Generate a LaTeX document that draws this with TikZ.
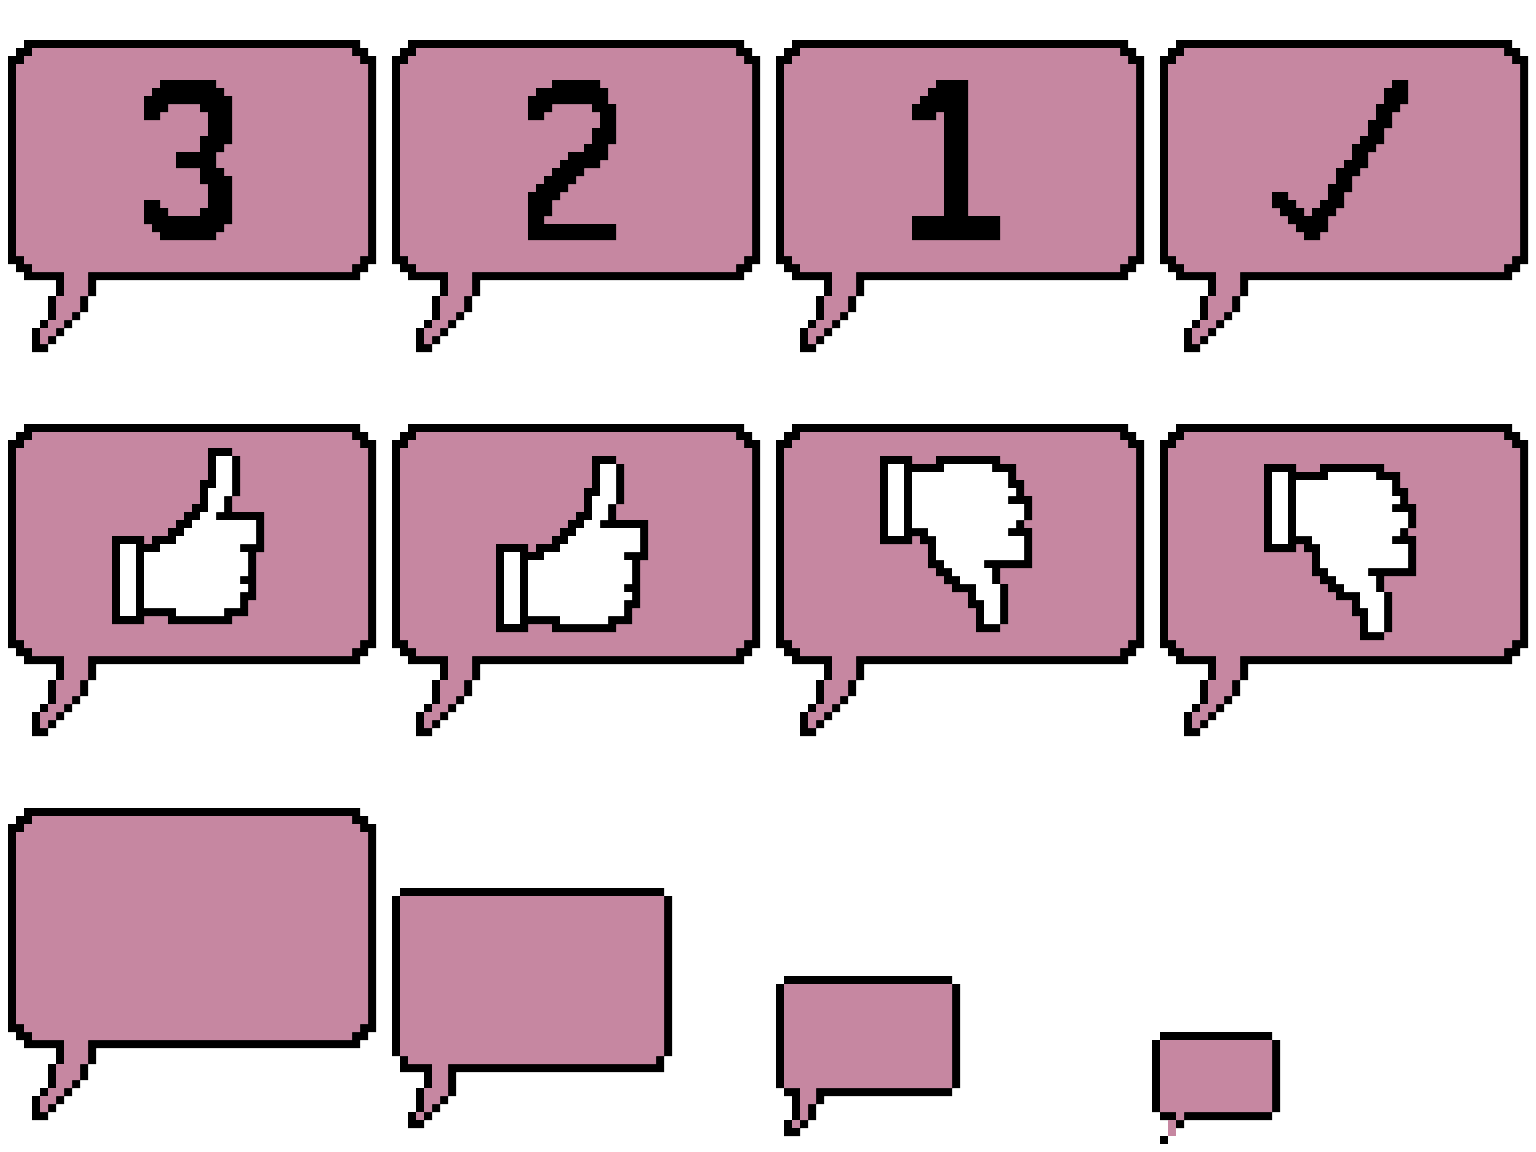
\documentclass[tikz,border=0pt]{standalone}
\definecolor{bubblepink}{HTML}{C687A1}
\tikzset{
  inkpx/.style={fill=black},
  bodypx/.style={fill=bubblepink},
  handpx/.style={fill=white}
}
% large speech bubble, in cells of the pixel grid
\newcommand{\BigBubble}{%
  \fill[inkpx] (3,5)--(45,5)--(45,6)--(46,6)--(46,7)--(47,7)--(47,33)--(46,33)--(46,34)--(45,34)--(45,35)--(12,35)--(12,37)--(11,37)--(11,39)--(10,39)--(10,40)--(9,40)--(9,41)--(8,41)--(8,42)--(7,42)--(7,43)--(6,43)--(6,44)--(4,44)--(4,41)--(5,41)--(5,40)--(6,40)--(6,37)--(7,37)--(7,35)--(3,35)--(3,34)--(2,34)--(2,33)--(1,33)--(1,7)--(2,7)--(2,6)--(3,6)--cycle;
  \fill[bodypx] (4,6)--(44,6)--(44,7)--(45,7)--(45,8)--(46,8)--(46,32)--(45,32)--(45,33)--(44,33)--(44,34)--(11,34)--(11,37)--(10,37)--(10,39)--(9,39)--(9,40)--(8,40)--(8,41)--(7,41)--(7,42)--(6,42)--(6,43)--(5,43)--(5,41)--(6,41)--(6,40)--(7,40)--(7,37)--(8,37)--(8,34)--(4,34)--(4,33)--(3,33)--(3,32)--(2,32)--(2,8)--(3,8)--(3,7)--(4,7)--cycle;
}
\newcommand{\ThumbUp}{%
  \fill[inkpx] (26,8)--(29,8)--(29,9)--(30,9)--(30,14)--(29,14)--(29,16)--(33,16)--(33,21)--(32,21)--(32,27)--(31,27)--(31,29)--(29,29)--(29,30)--(21,30)--(21,29)--(18,29)--(18,30)--(14,30)--(14,19)--(18,19)--(18,20)--(19,20)--(19,19)--(21,19)--(21,18)--(22,18)--(22,17)--(23,17)--(23,16)--(24,16)--(24,15)--(25,15)--(25,12)--(26,12)--cycle;
  \fill[handpx] (27,9)--(29,9)--(29,14)--(28,14)--(28,16)--(27,16)--(27,17)--(32,17)--(32,20)--(30,20)--(30,21)--(31,21)--(31,24)--(30,24)--(30,25)--(31,25)--(31,26)--(30,26)--(30,28)--(28,28)--(28,29)--(22,29)--(22,28)--(18,28)--(18,21)--(20,21)--(20,20)--(22,20)--(22,19)--(23,19)--(23,18)--(24,18)--(24,17)--(25,17)--(25,16)--(26,16)--(26,13)--(27,13)--cycle;
  \fill[handpx] (15,20) rectangle (17,29);
}
\newcommand{\ThumbDown}{%
  \fill[inkpx] (14,9)--(18,9)--(18,10)--(21,10)--(21,9)--(29,9)--(29,10)--(31,10)--(31,12)--(32,12)--(32,14)--(33,14)--(33,17)--(32,17)--(32,18)--(33,18)--(33,23)--(29,23)--(29,25)--(30,25)--(30,30)--(29,30)--(29,31)--(26,31)--(26,28)--(25,28)--(25,26)--(23,26)--(23,25)--(22,25)--(22,24)--(21,24)--(21,23)--(20,23)--(20,20)--(19,20)--(19,19)--(18,19)--(18,20)--(14,20)--cycle;
  \fill[handpx] (22,10)--(28,10)--(28,11)--(30,11)--(30,13)--(31,13)--(31,14)--(30,14)--(30,15)--(32,15)--(32,17)--(31,17)--(31,18)--(30,18)--(30,19)--(32,19)--(32,22)--(27,22)--(27,23)--(28,23)--(28,25)--(29,25)--(29,30)--(27,30)--(27,27)--(26,27)--(26,25)--(24,25)--(24,24)--(23,24)--(23,23)--(22,23)--(22,22)--(21,22)--(21,19)--(20,19)--(20,18)--(18,18)--(18,11)--(22,11)--cycle;
  \fill[handpx] (15,10) rectangle (17,19);
}
\begin{document}
\begin{tikzpicture}[x=4bp,y=-4bp]
\useasboundingbox (0,0) rectangle (192,144);
\fill[white] (0,0) rectangle (192,144);

% row 1: countdown
\begin{scope}
  \BigBubble
  \fill[inkpx] (20,10)--(27,10)--(27,11)--(28,11)--(28,12)--(29,12)--(29,18)--(28,18)--(28,19)--(27,19)--(27,21)--(28,21)--(28,22)--(29,22)--(29,28)--(28,28)--(28,29)--(27,29)--(27,30)--(20,30)--(20,29)--(19,29)--(19,28)--(18,28)--(18,25)--(20,25)--(20,26)--(21,26)--(21,27)--(25,27)--(25,26)--(26,26)--(26,23)--(25,23)--(25,21)--(22,21)--(22,19)--(25,19)--(25,17)--(26,17)--(26,14)--(25,14)--(25,13)--(21,13)--(21,14)--(20,14)--(20,15)--(18,15)--(18,12)--(19,12)--(19,11)--(20,11)--cycle;
\end{scope}
\begin{scope}[shift={(48,0)}]
  \BigBubble
  \fill[inkpx] (21,10)--(27,10)--(27,11)--(28,11)--(28,13)--(29,13)--(29,18)--(28,18)--(28,20)--(27,20)--(27,21)--(25,21)--(25,22)--(24,22)--(24,23)--(23,23)--(23,24)--(22,24)--(22,25)--(21,25)--(21,27)--(20,27)--(20,28)--(29,28)--(29,30)--(18,30)--(18,24)--(19,24)--(19,23)--(20,23)--(20,22)--(21,22)--(21,21)--(22,21)--(22,20)--(23,20)--(23,19)--(25,19)--(25,18)--(26,18)--(26,16)--(27,16)--(27,14)--(26,14)--(26,13)--(21,13)--(21,14)--(20,14)--(20,15)--(18,15)--(18,12)--(19,12)--(19,11)--(21,11)--cycle;
\end{scope}
\begin{scope}[shift={(96,0)}]
  \BigBubble
  \fill[inkpx] (21,10)--(25,10)--(25,27)--(29,27)--(29,30)--(18,30)--(18,27)--(22,27)--(22,14)--(21,14)--(21,15)--(18,15)--(18,13)--(19,13)--(19,12)--(20,12)--(20,11)--(21,11)--cycle;
\end{scope}
\begin{scope}[shift={(144,0)}]
  \BigBubble
  \fill[inkpx] (30,10)--(32,10)--(32,13)--(31,13)--(31,14)--(30,14)--(30,16)--(29,16)--(29,18)--(28,18)--(28,19)--(27,19)--(27,21)--(26,21)--(26,22)--(25,22)--(25,24)--(24,24)--(24,26)--(23,26)--(23,27)--(22,27)--(22,29)--(21,29)--(21,30)--(19,30)--(19,29)--(18,29)--(18,28)--(17,28)--(17,27)--(16,27)--(16,26)--(15,26)--(15,24)--(17,24)--(17,25)--(18,25)--(18,26)--(19,26)--(19,27)--(20,27)--(20,26)--(21,26)--(21,25)--(22,25)--(22,23)--(23,23)--(23,21)--(24,21)--(24,20)--(25,20)--(25,18)--(26,18)--(26,17)--(27,17)--(27,15)--(28,15)--(28,13)--(29,13)--(29,11)--(30,11)--cycle;
\end{scope}

% row 2: thumbs
\begin{scope}[shift={(0,48)}]
  \BigBubble
  \ThumbUp
\end{scope}
\begin{scope}[shift={(48,48)}]
  \BigBubble
  \begin{scope}[shift={(0,1)}]\ThumbUp\end{scope}
\end{scope}
\begin{scope}[shift={(96,48)}]
  \BigBubble
  \ThumbDown
\end{scope}
\begin{scope}[shift={(144,48)}]
  \BigBubble
  \begin{scope}[shift={(0,1)}]\ThumbDown\end{scope}
\end{scope}

% row 3: shrinking empty bubbles
\begin{scope}[shift={(0,96)}]
  \BigBubble
\end{scope}

\fill[inkpx] (50,111)--(83,111)--(83,112)--(84,112)--(84,132)--(83,132)--(83,134)--(57,134)--(57,137)--(56,137)--(56,138)--(55,138)--(55,139)--(54,139)--(54,140)--(53,140)--(53,141)--(51,141)--(51,139)--(52,139)--(52,136)--(53,136)--(53,134)--(50,134)--(50,132)--(49,132)--(49,112)--(50,112)--cycle;
\fill[bodypx] (50,112)--(83,112)--(83,132)--(82,132)--(82,133)--(56,133)--(56,137)--(55,137)--(55,138)--(54,138)--(54,139)--(53,139)--(53,136)--(54,136)--(54,133)--(51,133)--(51,132)--(50,132)--cycle;
\fill[bodypx] (52,139) rectangle (53,140);

\fill[inkpx] (98,122)--(119,122)--(119,123)--(120,123)--(120,136)--(119,136)--(119,137)--(103,137)--(103,138)--(102,138)--(102,140)--(101,140)--(101,141)--(100,141)--(100,142)--(98,142)--(98,140)--(99,140)--(99,137)--(98,137)--(98,136)--(97,136)--(97,123)--(98,123)--cycle;
\fill[bodypx] (98,123)--(119,123)--(119,136)--(102,136)--(102,138)--(101,138)--(101,140)--(100,140)--(100,136)--(98,136)--cycle;
\fill[bodypx] (99,140) rectangle (100,141);

\fill[inkpx] (145,129)--(159,129)--(159,130)--(160,130)--(160,139)--(159,139)--(159,140)--(148,140)--(148,141)--(147,141)--(147,140)--(145,140)--(145,139)--(144,139)--(144,130)--(145,130)--cycle;
\fill[bodypx] (145,130)--(159,130)--(159,139)--(148,139)--(148,140)--(147,140)--(147,139)--(145,139)--cycle;
\fill[bodypx] (146,140) rectangle (147,142);
\fill[inkpx] (145,142) rectangle (146,143);
\end{tikzpicture}
\end{document}
